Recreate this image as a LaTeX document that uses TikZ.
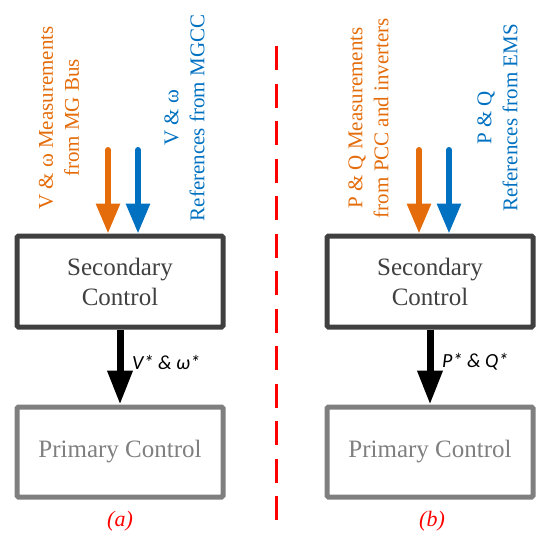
\documentclass[tikz,border=0pt]{standalone}
\usepackage{fontspec}
\setmainfont{Liberation Serif}
\newfontfamily\tnr{Liberation Serif}
\newfontfamily\calib{Carlito}
\usetikzlibrary{arrows.meta}
\definecolor{orng}{HTML}{E46C0A}
\definecolor{blu}{HTML}{0070C0}
\definecolor{dgray}{HTML}{404040}
\definecolor{mgray}{HTML}{7F7F7F}
\definecolor{redd}{HTML}{FF0000}
\begin{document}
\begin{tikzpicture}[x=1pt,y=-1pt,
  secbox/.style={draw=dgray, line width=5pt, rounded corners=1.5pt, minimum width=206pt, minimum height=91pt, text=dgray, font=\tnr\fontsize{25}{30}\selectfont, align=center, inner sep=0pt},
  primbox/.style={draw=mgray, line width=5pt, rounded corners=1.5pt, minimum width=206pt, minimum height=90pt, text=mgray, font=\tnr\fontsize{25}{30}\selectfont, align=center, inner sep=0pt},
  inarrow/.style={line width=6pt, line cap=round, -{Triangle[width=23pt,length=30pt]}},
  outarrow/.style={line width=7pt, black, -{Triangle[width=24pt,length=34pt]}},
  vlabel/.style={rotate=90, align=center, font=\tnr\fontsize{21}{26}\selectfont, inner sep=0pt},
  siglabel/.style={anchor=west, font=\calib\itshape\fontsize{20}{24}\selectfont, inner sep=0pt},
  caplabel/.style={text=redd, font=\tnr\itshape\fontsize{22}{26}\selectfont, inner sep=0pt}
]
\useasboundingbox (0,0) rectangle (550,542);
% left panel
\node[secbox] (secA) at (120,281.5) {Secondary\\Control};
\node[primbox] (primA) at (120,452) {Primary Control};
\draw[outarrow] (secA.south) -- (primA.north);
\coordinate (oA) at (108,150);
\coordinate (bA) at (138,150);
\draw[inarrow, orng] (oA) -- (oA |- secA.north);
\draw[inarrow, blu] (bA) -- (bA |- secA.north);
\node[vlabel, text=orng] (tA1) at (59,118) {V \& ω Measurements\\from MG Bus};
\node[vlabel, text=blu] (tA2) at (184.5,118) {V \& ω\\References from MGCC};
\node[siglabel] (sA) at (132,362) {V* \& ω*};
\node[caplabel] (cA) at (120,521) {(a)};
% divider
\coordinate (d1) at (276,46);
\coordinate (d2) at (276,522);
\draw[redd, line width=3pt, dash pattern=on 24pt off 13.5pt] (d1) -- (d2);
% right panel
\node[secbox] (secB) at (430,281.5) {Secondary\\Control};
\node[primbox] (primB) at (430,452) {Primary Control};
\draw[outarrow] (secB.south) -- (primB.north);
\coordinate (oB) at (419,150);
\coordinate (bB) at (449,150);
\draw[inarrow, orng] (oB) -- (oB |- secB.north);
\draw[inarrow, blu] (bB) -- (bB |- secB.north);
\node[vlabel, text=orng] (tB1) at (368.5,118) {P \& Q Measurements\\from PCC and inverters};
\node[vlabel, text=blu] (tB2) at (497.5,118) {P \& Q\\References from EMS};
\node[siglabel] (sB) at (442,362) {P* \& Q*};
\node[caplabel] (cB) at (432,521) {(b)};
\end{tikzpicture}
\end{document}
